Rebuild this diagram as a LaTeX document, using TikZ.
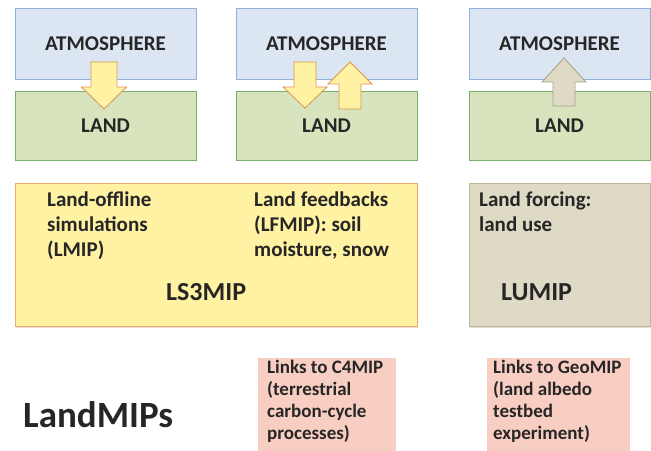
\documentclass[tikz,border=0pt]{standalone}
\usepackage{fontspec}
\setmainfont{Carlito}
\usetikzlibrary{shadows}
\definecolor{atmfill}{RGB}{220,230,242}
\definecolor{atmline}{RGB}{143,177,220}
\definecolor{landfill}{RGB}{215,228,190}
\definecolor{landline}{RGB}{120,176,106}
\definecolor{lsfill}{RGB}{255,242,162}
\definecolor{lsline}{RGB}{243,168,100}
\definecolor{lufill}{RGB}{222,218,197}
\definecolor{luline}{RGB}{190,182,148}
\definecolor{linkfill}{RGB}{249,206,194}
\definecolor{arrline}{RGB}{222,146,86}
\definecolor{grayarrline}{RGB}{168,160,130}
\definecolor{ink}{RGB}{38,38,38}
\begin{document}
\begin{tikzpicture}[x=1bp,y=-1bp,
    box/.style={draw,line width=0.8bp,inner sep=0,text=ink,
      drop shadow={shadow xshift=1bp,shadow yshift=-1.5bp,opacity=0.25}},
    atmbox/.style={box,fill=atmfill,draw=atmline,minimum width=181bp,minimum height=71bp,
      font=\fontsize{21bp}{24bp}\selectfont\bfseries},
    landbox/.style={box,fill=landfill,draw=landline,minimum width=181bp,minimum height=69bp,
      font=\fontsize{21bp}{24bp}\selectfont\bfseries},
    yarrow/.style={fill=lsfill,draw=arrline,line width=0.8bp,line join=miter},
    garrow/.style={fill=lufill,draw=grayarrline,line width=0.8bp,line join=miter},
    note/.style={inner sep=0,anchor=base west,align=left,text=ink,
      font=\fontsize{21bp}{25bp}\selectfont\bfseries},
    linknote/.style={inner sep=0,anchor=base west,align=left,text=ink,
      font=\fontsize{19bp}{22bp}\selectfont\bfseries},
    mipname/.style={inner sep=0,anchor=base west,text=ink,
      font=\fontsize{26bp}{30bp}\selectfont\bfseries}]
\useasboundingbox (0,0) rectangle (651,451);

% top row: atmosphere over land
\node[atmbox] (atmA) at (105.5,43.5) {ATMOSPHERE};
\node[atmbox] (atmB) at (326.5,43.5) {ATMOSPHERE};
\node[atmbox] (atmC) at (559.5,43.5) {ATMOSPHERE};
\node[landbox] (landA) at (105.5,125.5) {LAND};
\node[landbox] (landB) at (326.5,125.5) {LAND};
\node[landbox] (landC) at (559.5,125.5) {LAND};

% exchange arrows
\draw[yarrow] (91,62) -- (117,62) -- (117,87) -- (126.5,87) -- (104,109) -- (81.5,87) -- (91,87) -- cycle;
\draw[yarrow] (294,62) -- (316,62) -- (316,87) -- (327,87) -- (305,108) -- (283,87) -- (294,87) -- cycle;
\draw[yarrow] (339,109) -- (361,109) -- (361,84) -- (372,84) -- (350,62) -- (328,84) -- (339,84) -- cycle;
\draw[garrow] (553,106) -- (575,106) -- (575,82) -- (586,82) -- (564,58) -- (542,82) -- (553,82) -- cycle;

% middle row
\node[box,fill=lsfill,draw=lsline,minimum width=402bp,minimum height=143bp] (ls3) at (216,254.5) {};
\node[box,fill=lufill,draw=luline,minimum width=181bp,minimum height=143bp] (lu) at (559.5,254.5) {};
\node[note] (offline) at (47,257) {Land-offline\\simulations\\(LMIP)};
\node[note] (feedback) at (254,257) {Land feedbacks\\(LFMIP): soil\\moisture, snow};
\node[note] (forcing) at (479,232) {Land forcing:\\land use};
\node[mipname] (ls3name) at (166,301) {LS3MIP};
\node[mipname] (luname) at (501,301) {LUMIP};

% bottom row
\fill[linkfill] (258,358) rectangle (396,460);
\fill[linkfill] (487,358) rectangle (630,460);
\node[linknote] (cfour) at (267,439) {Links to C4MIP\\(terrestrial\\carbon-cycle\\processes)};
\node[linknote] (geo) at (493,439) {Links to GeoMIP\\(land albedo\\testbed\\experiment)};
\node[inner sep=0,anchor=base west,text=ink,font=\fontsize{37bp}{42bp}\selectfont\bfseries] (title) at (23,427) {LandMIPs};
\end{tikzpicture}
\end{document}
